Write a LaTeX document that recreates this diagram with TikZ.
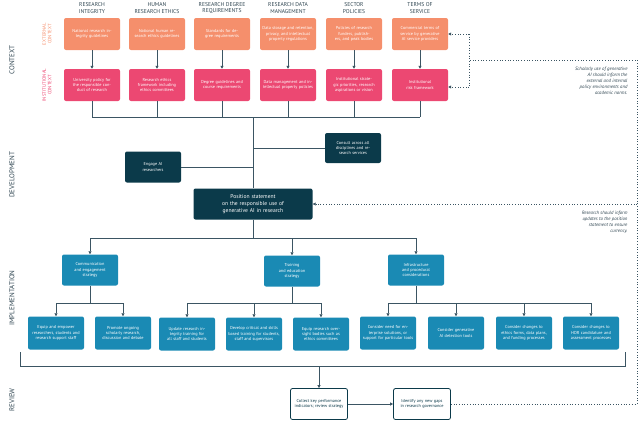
\documentclass[tikz,border=0pt]{standalone}
\usepackage{fontspec}
\setmainfont{PT Sans}
\usetikzlibrary{arrows.meta}
\definecolor{org}{HTML}{F58F6C}
\definecolor{pnk}{HTML}{EC4872}
\definecolor{dk}{HTML}{0B3A4A}
\definecolor{bl}{HTML}{1A8AB4}
\definecolor{ln}{HTML}{3B5563}
\definecolor{hd}{HTML}{2E4450}
\begin{document}
\begin{tikzpicture}[x=1pt,y=-1pt,
 bx/.style={rounded corners=2pt,align=center,inner sep=1pt,font=\fontsize{4.3}{5.4}\selectfont},
 ob/.style={bx,fill=org,text=white,minimum width=56pt,minimum height=32pt,text width=52pt},
 pb/.style={bx,fill=pnk,text=white,minimum width=56pt,minimum height=32pt,text width=52pt},
 db/.style={bx,fill=dk,text=white},
 bb/.style={bx,fill=bl,text=white,minimum width=56pt,minimum height=31pt,text width=53pt},
 wb/.style={bx,draw=dk,line width=0.8pt,fill=white,text=dk,minimum width=57pt,minimum height=31pt,text width=50pt},
 hdr/.style={align=center,text=hd,font=\fontsize{5.6}{6.2}\selectfont},
 sec/.style={rotate=90,text=hd,font=\fontsize{7}{8}\selectfont},
 sub/.style={rotate=90,align=center,font=\fontsize{4.8}{5.4}\selectfont},
 ar/.style={draw=ln,line width=0.8pt,-{Triangle[length=3pt,width=3pt]}},
 li/.style={draw=ln,line width=0.8pt},
 dt/.style={draw=ln,line width=0.7pt,dotted},
 nt/.style={align=right,text=hd,font=\itshape\fontsize{4.8}{6}\selectfont}]
\useasboundingbox (0,0) rectangle (640,421);
% section labels
\node[sec] (s1) at (12,60) {CONTEXT};
\node[sec] (s2) at (12,175) {DEVELOPMENT};
\node[sec] (s3) at (12,298) {IMPLEMENTATION};
\node[sec] (s4) at (12,400) {REVIEW};
\node[sub,text=org] (e1) at (47,34) {EXTERNAL\\CONTEXT};
\node[sub,text=pnk] (e2) at (47,85) {INSTITUTIONAL\\CONTEXT};
% headers
\node[hdr] (h1) at (92,8) {RESEARCH\\INTEGRITY};
\node[hdr] (h2) at (157,8) {HUMAN\\RESEARCH ETHICS};
\node[hdr] (h3) at (222,8) {RESEARCH DEGREE\\REQUIREMENTS};
\node[hdr] (h4) at (288,8) {RESEARCH DATA\\MANAGEMENT};
\node[hdr] (h5) at (354,8) {SECTOR\\POLICIES};
\node[hdr] (h6) at (420,8) {TERMS OF\\SERVICE};
% orange
\node[ob] (o1) at (92,34) {National research integrity guidelines};
\node[ob] (o2) at (157,34) {National human research ethics guidelines};
\node[ob] (o3) at (222,34) {Standards for degree requirements};
\node[ob] (o4) at (288,34) {Data storage and retention, privacy, and intellectual property regulations};
\node[ob] (o5) at (354,34) {Policies of research funders, publishers, and peak bodies};
\node[ob] (o6) at (420,34) {Commercial terms of service by generative AI service providers};
% pink
\node[pb] (p1) at (92,85) {University policy for the responsible conduct of research};
\node[pb] (p2) at (157,85) {Research ethics framework including ethics committees};
\node[pb] (p3) at (222,85) {Degree guidelines and course requirements};
\node[pb] (p4) at (288,85) {Data management and intellectual property policies};
\node[pb] (p5) at (354,85) {Institutional strategic priorities, research aspirations or vision};
\node[pb] (p6) at (420,85) {Institutional\\risk framework};
\foreach \i in {1,...,6}{\draw[ar] (o\i) -- (p\i);}
\coordinate (bus) at (253,117);
\foreach \i in {1,...,6}{\draw[li] (p\i.south) -- (p\i.south |- bus);}
\draw[li] (p1.south |- bus) -- (p6.south |- bus);
% development
\node[db,minimum width=56pt,minimum height=30pt,text width=52pt] (cons) at (353,148) {Consult across all disciplines and research services};
\node[db,minimum width=56pt,minimum height=31pt,text width=50pt] (eng) at (153,167) {Engage AI\\researchers};
\node[db,minimum width=119pt,minimum height=31pt,text width=110pt,font=\fontsize{5.6}{6.8}\selectfont] (pos) at (253,204) {Position statement\\on the responsible use of\\generative AI in research};
\draw[li] (bus) -- (pos.north);
\draw[li] (cons.west) -- (cons.west -| bus);
\draw[li] (eng.east) -- (eng.east -| bus);
% implementation mid
\node[bb] (m1) at (90,270) {Communication\\and engagement\\strategy};
\node[bb] (m2) at (292,271) {Training\\and education\\strategy};
\node[bb] (m3) at (416,270) {Infrastructure\\and procedural\\considerations};
\coordinate (br) at (253,238);
\draw[li] (pos.south) -- (br);
\draw[li] (m1.north |- br) -- (m3.north |- br);
\foreach \i in {1,2,3}{\draw[ar] (m\i.north |- br) -- (m\i.north);}
% leaves
\node[bb,minimum height=33pt] (l1) at (56,333) {Equip and empower researchers, students and research support staff};
\node[bb,minimum height=33pt] (l2) at (123,333) {Promote ongoing scholarly research, discussion and debate};
\node[bb,minimum height=33pt] (l3) at (187,334) {Update research integrity training for all staff and students};
\node[bb,minimum height=33pt] (l4) at (254,334) {Develop critical and skills based training for students, staff and supervisors};
\node[bb,minimum height=33pt] (l5) at (321,334) {Equip research oversight bodies such as ethics committees};
\node[bb,minimum height=33pt] (l6) at (388,333) {Consider need for enterprise solutions, or support for particular tools};
\node[bb,minimum height=33pt] (l7) at (456,333) {Consider generative AI detection tools};
\node[bb,minimum height=33pt] (l8) at (524,333) {Consider changes to ethics forms, data plans, and funding processes};
\node[bb,minimum height=33pt] (l9) at (591,333) {Consider changes to HDR candidature and assessment processes};
\coordinate (b1) at (90,303); \coordinate (b2) at (292,303); \coordinate (b3) at (416,303);
\foreach \i in {1,2,3}{\draw[li] (m\i.south) -- (b\i);}
\draw[li] (l1.north |- b1) -- (l2.north |- b1);
\draw[li] (l3.north |- b2) -- (l5.north |- b2);
\draw[li] (l6.north |- b3) -- (l9.north |- b3);
\foreach \i in {1,2}{\draw[ar] (l\i.north |- b1) -- (l\i.north);}
\foreach \i in {3,4,5}{\draw[ar] (l\i.north |- b2) -- (l\i.north);}
\foreach \i in {6,...,9}{\draw[ar] (l\i.north |- b3) -- (l\i.north);}
% bracket
\coordinate (k1) at (20,352); \coordinate (k2) at (625,352);
\coordinate (kb) at (319,366);
\draw[li] (k1) -- (k1 |- kb) -- (k2 |- kb) -- (k2);
% review
\node[wb] (r1) at (319,404) {Collect key performance indicators; review strategy};
\node[wb] (r2) at (422,404) {Identify any new gaps in research governance};
\draw[ar] (kb) -- (r1.north);
\draw[ar] (r1) -- (r2);
% dotted feedback
\coordinate (d1) at (637,404); \coordinate (d2) at (637,60); \coordinate (d3) at (469,60);
\draw[dt] (r2.east) -- (d1) -- (d2) -- (d3);
\draw[dt,-{Triangle[length=3pt,width=3pt]}] (d1 |- pos) -- (pos.east);
\coordinate (d4) at (469,34); \coordinate (d5) at (469,87);
\draw[dt] (d4) -- (d5);
\draw[dt,-{Triangle[length=3pt,width=3pt]}] (d4) -- (o6.east);
\draw[dt,-{Triangle[length=3pt,width=3pt]}] (d5) -- (p6.east |- d5);
\node[nt,anchor=north east] (n1) at (631,64) {Scholarly use of generative\\AI should inform the\\external and internal\\policy environments and\\academic norms.};
\node[nt,anchor=north east] (n2) at (631,208) {Research should inform\\updates to the position\\statement to ensure\\currency.};
\end{tikzpicture}
\end{document}
